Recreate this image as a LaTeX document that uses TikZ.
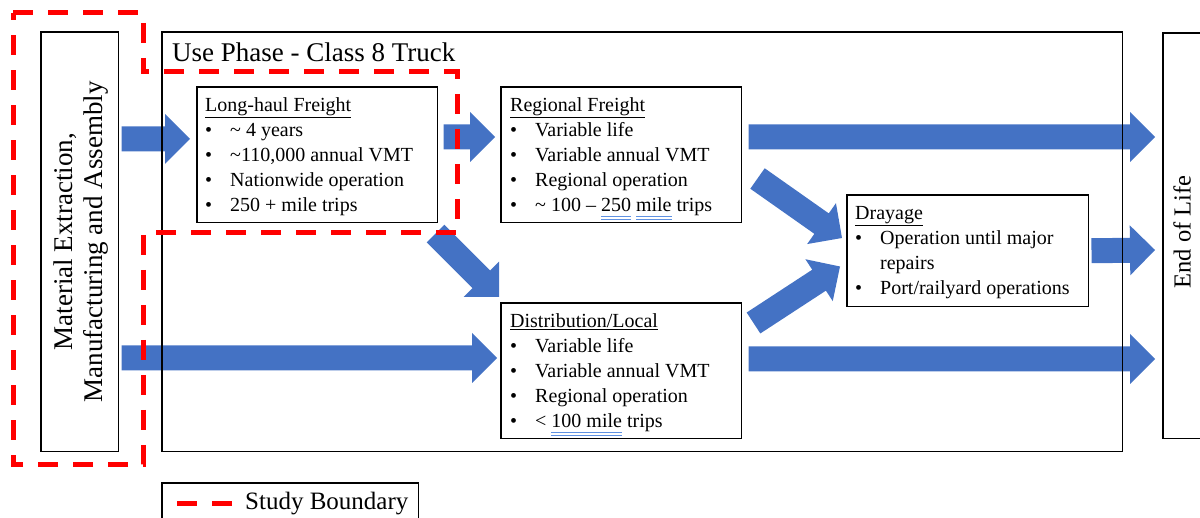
\documentclass[tikz,border=0pt]{standalone}
\usepackage{fontspec}
\setmainfont{Liberation Serif}
\usetikzlibrary{calc}
\definecolor{abl}{HTML}{4472C4}
\definecolor{gbl}{RGB}{95,145,225}
\newcommand\fbig{\fontsize{27}{30}\selectfont}
\newcommand\feol{\fontsize{24.5}{28}\selectfont}
\newcommand\fbody{\fontsize{20}{25}\selectfont}
\newcommand\fleg{\fontsize{25}{28}\selectfont}
\newcommand\bl[1]{\makebox[25pt][l]{\textbullet}#1}
\newcommand\gul[1]{\setbox0\hbox{#1}\rlap{\color{gbl}\rule[-5pt]{\wd0}{0.7pt}}\rlap{\color{gbl}\rule[-8pt]{\wd0}{0.7pt}}\box0\relax}
\newcommand\barrow[2]{%
  \coordinate (tmpH) at ($(#2)!25pt!(#1)$);
  \fill[abl] ($(#1)!12.5pt!90:(#2)$) -- ($(tmpH)!12.5pt!90:(#2)$) -- ($(tmpH)!25pt!90:(#2)$) -- (#2)
    -- ($(tmpH)!25pt!-90:(#2)$) -- ($(tmpH)!12.5pt!-90:(#2)$) -- ($(#1)!12.5pt!-90:(#2)$) -- cycle;}
\tikzset{
  box/.style={draw=black, line width=1.5pt, inner sep=0pt, anchor=north west},
  txt/.style={anchor=north west, inner sep=0pt, align=left, font=\fbody},
  studyb/.style={draw=red, line width=5pt, dash pattern=on 20pt off 15pt, line join=miter},
}
\begin{document}
\begin{tikzpicture}[x=1pt,y=-1pt]
\useasboundingbox (0,0) rectangle (1200,518);
\clip (0,0) rectangle (1200,518);
% boxes (geometry)
\path (41,32) node[box, draw=none, minimum width=76pt, minimum height=418pt] (mat) {};
\path (162,32) node[box, draw=none, minimum width=959pt, minimum height=418pt] (use) {};
\path (1163,33) node[box, draw=none, minimum width=45pt, minimum height=404pt] (eol) {};
\path (197,87) node[box, draw=none, minimum width=239pt, minimum height=134pt] (lh) {};
\path (501,87) node[box, draw=none, minimum width=239pt, minimum height=134pt] (reg) {};
\path (501,303) node[box, draw=none, minimum width=239pt, minimum height=134pt] (dist) {};
\path (847,195) node[box, draw=none, minimum width=240pt, minimum height=110pt] (dray) {};
\path (162,483) node[box, draw=none, minimum width=255pt, minimum height=60pt] (leg) {};
% arrow end points
\coordinate (a1s) at ($(mat.north east)+(3,107)$);
\coordinate (a1e) at ($(lh.north west)+(-7,52)$);
\coordinate (a2s) at ($(lh.north east)+(6,50)$);
\coordinate (a2e) at ($(reg.north west)+(-6,50)$);
\coordinate (a3s) at ($(reg.north east)+(7,50)$);
\coordinate (a3e) at ($(eol.north west)+(-8,104)$);
\coordinate (a4s) at ($(mat.north east)+(3,326)$);
\coordinate (a4e) at ($(dist.north west)+(-4,55)$);
\coordinate (a5s) at ($(lh.south east)+(-2,11)$);
\coordinate (a5e) at ($(dist.north west)+(-2,-6)$);
\coordinate (a6s) at ($(dist.north east)+(7,56)$);
\coordinate (a6e) at ($(eol.north west)+(-8,326)$);
\coordinate (a7s) at ($(reg.south east)+(16,-44)$);
\coordinate (a7e) at ($(dray.north west)+(-5,43)$);
\coordinate (a8s) at ($(dist.north east)+(12,20)$);
\coordinate (a8e) at ($(dray.south west)+(-7,-40)$);
\coordinate (a9s) at ($(dray.east)+(3,0)$);
\coordinate (a9e) at ($(eol.north west)+(-8,217)$);
% block arrows
\barrow{a1s}{a1e}
\barrow{a2s}{a2e}
\barrow{a3s}{a3e}
\barrow{a4s}{a4e}
\barrow{a5s}{a5e}
\barrow{a6s}{a6e}
\barrow{a7s}{a7e}
\barrow{a8s}{a8e}
\barrow{a9s}{a9e}
% box outlines
\foreach \n in {mat,use,eol,lh,reg,dist,dray,leg}{
  \draw[line width=1.5pt] (\n.north west) rectangle (\n.south east);
}
% texts
\node[rotate=90, align=center, font=\fbig, inner sep=0pt] (mattext) at ($(mat.center)+(1,0)$)
  {Material Extraction,\\Manufacturing and Assembly};
\node[anchor=base west, font=\fbig, inner sep=0pt] (title) at ($(use.north west)+(10,30)$)
  {Use Phase - Class 8 Truck};
\node[rotate=90, font=\feol, inner sep=0pt] (eoltext) at ($(eol.north west)+(19,199)$) {End of Life};
\node[txt] (lhtext) at ($(lh.north west)+(8,10.5)$)
  {\underline{Long-haul Freight}\\
   \bl{\textasciitilde\ 4 years}\\
   \bl{\textasciitilde110,000 annual VMT}\\
   \bl{Nationwide operation}\\
   \bl{250 + mile trips}};
\node[txt] (regtext) at ($(reg.north west)+(9,10.5)$)
  {\underline{Regional Freight}\\
   \bl{Variable life}\\
   \bl{Variable annual VMT}\\
   \bl{Regional operation}\\
   \bl{\textasciitilde\ 100 \textendash\ \gul{250} \gul{mile} trips}};
\node[txt] (disttext) at ($(dist.north west)+(9,10.5)$)
  {\underline{Distribution/Local}\\
   \bl{Variable life}\\
   \bl{Variable annual VMT}\\
   \bl{Regional operation}\\
   \bl{< \gul{100 mile} trips}};
\node[txt] (draytext) at ($(dray.north west)+(8,11)$)
  {\underline{Drayage}\\
   \bl{Operation until major}\\
   \hspace*{25pt}repairs\\
   \bl{Port/railyard operations}};
% study boundary
\draw[studyb] (13,13) -- (143,13) -- (143,72) -- (457,72) -- (457,233) -- (143,233) -- (143,465) -- (13,465) -- cycle;
% legend
\draw[studyb] ($(leg.north west)+(15,20)$) -- ++(55,0);
\node[anchor=base west, font=\fleg, inner sep=0pt] (legtext) at ($(leg.north west)+(83,27)$) {Study Boundary};
\end{tikzpicture}
\end{document}
